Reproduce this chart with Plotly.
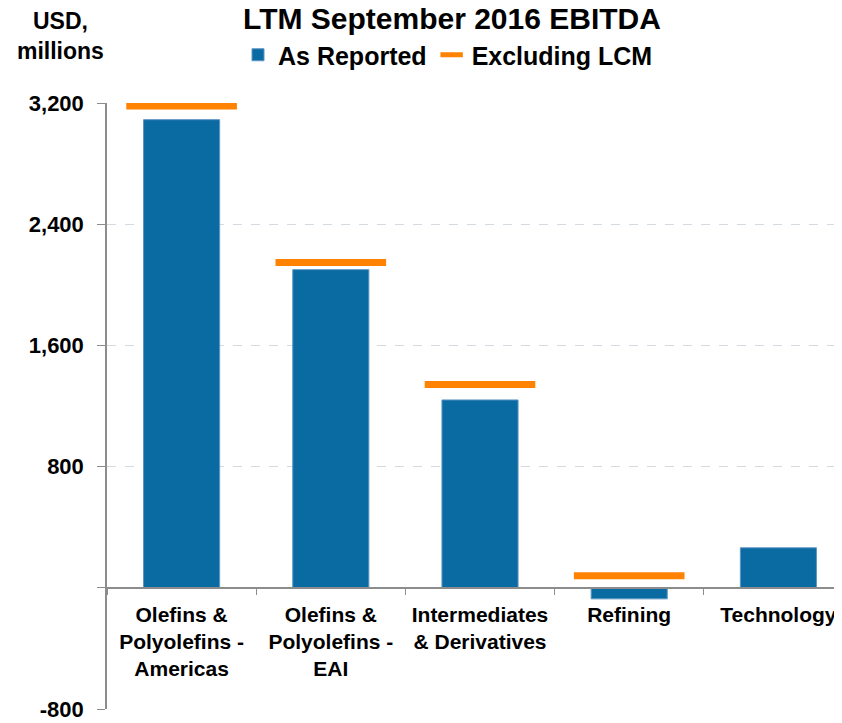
import plotly.graph_objects as go

# values (USD, millions)
CATEGORIES = ['Olefins &<br>Polyolefins -<br>Americas', 'Olefins &<br>Polyolefins -<br>EAI',
              'Intermediates<br>& Derivatives', 'Refining', 'Technology']
AS_REPORTED = [3090, 2100, 1240, -73, 264]
EXCL_LCM = [3180, 2147, 1342, 79, None]
Y_TICKS = [-800, 0, 800, 1600, 2400, 3200]
Y_TICKTEXT = ['-800', '', '800', '1,600', '2,400', '3,200']

BLUE = '#0A6BA3'
ORANGE = '#FF8200'
AXIS = '#8C8C8C'
GRID = '#D3DAE2'
FONT = 'Liberation Sans, Arial, sans-serif'

# the page body has an 8px margin, so the figure is 8px smaller than the window
OFF = 8
W, H = 842 - OFF, 723 - OFF
ML, MR, MT, MB = 107 - OFF, 0, 103 - OFF, H - (709 - OFF)
pw = W - ML - MR
ph = H - MT - MB


def py(y_px):
    """window pixel row -> paper y"""
    return (H - MB - (y_px - OFF)) / ph


def px(x_px):
    return (x_px - OFF - ML) / pw


fig = go.Figure()
fig.add_trace(go.Bar(x=CATEGORIES, y=AS_REPORTED, name='<b>As Reported</b>', width=0.51,
    marker=dict(color=BLUE, line=dict(color='#5E95C2', width=1))))
fig.add_trace(go.Scatter(x=CATEGORIES, y=EXCL_LCM, name='<b>Excluding LCM</b>', mode='markers',
    marker=dict(symbol='line-ew', size=79, color=ORANGE,
                line=dict(color=ORANGE, width=7))))

# category labels sit on the zero line, not at the bottom of the plot
zero_pos = (0 - Y_TICKS[0]) / (Y_TICKS[-1] - Y_TICKS[0])

fig.update_layout(
    width=W, height=H,
    paper_bgcolor='white', plot_bgcolor='white',
    font=dict(family=FONT, size=21, color='black'),
    margin=dict(l=ML, r=MR, t=MT, b=MB, autoexpand=False),
    title=dict(text='<b>LTM September 2016 EBITDA</b>', font=dict(size=30, color='black'),
               xref='container', x=(452 - OFF) / W, xanchor='center',
               yref='container', y=1, yanchor='top', pad=dict(t=0, b=0)),
    legend=dict(orientation='h', xref='paper', x=px(448), xanchor='center',
                yref='paper', y=py(55), yanchor='middle', itemsizing='trace',
                font=dict(size=25), bgcolor='rgba(0,0,0,0)'),
    showlegend=True,
    annotations=[dict(text='<b>USD,<br>millions</b>', xref='paper', yref='paper',
                      x=px(60), y=py(36),
                      xanchor='center', yanchor='middle', showarrow=False,
                      font=dict(size=23, color='black'))],
)
fig.update_xaxes(type='category', range=[-0.5, -0.5 + pw / 149.2],
                 anchor='free', position=zero_pos, automargin=False,
                 showline=True, linecolor=AXIS, linewidth=1.5,
                 ticks='outside', tickson='boundaries', ticklen=6, tickcolor=AXIS,
                 showgrid=False, tickangle=0, tickfont=dict(size=21, family=FONT),
                 tickvals=CATEGORIES, ticktext=[f'<b>{c}</b>' for c in CATEGORIES],
                 ticklabelstandoff=8)
fig.update_yaxes(range=[Y_TICKS[0], Y_TICKS[-1]], tickvals=Y_TICKS,
                 ticktext=[f'<b>{t}</b>' for t in Y_TICKTEXT], automargin=False,
                 showline=True, linecolor=AXIS, linewidth=1.5,
                 ticks='outside', ticklen=8, tickcolor=AXIS,
                 showgrid=True, gridcolor=GRID, griddash='dash', gridwidth=1,
                 zeroline=False, tickfont=dict(size=22, family=FONT),
                 ticklabelstandoff=9)

fig.write_html('out.html')
